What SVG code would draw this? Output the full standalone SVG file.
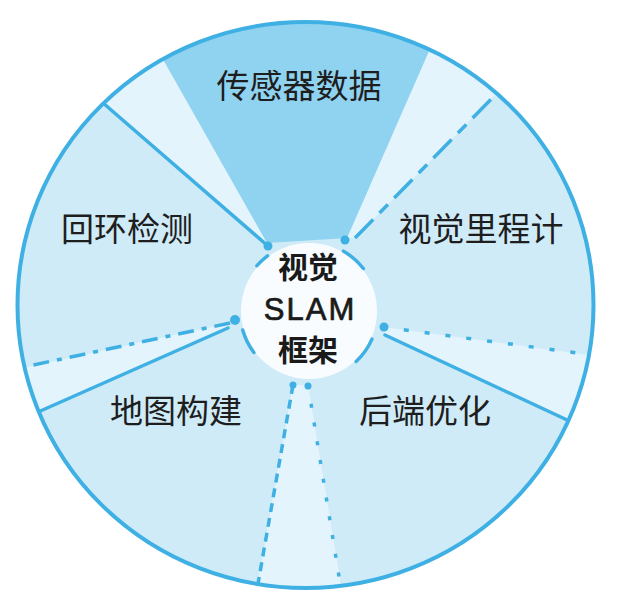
<svg xmlns="http://www.w3.org/2000/svg" width="628" height="601" viewBox="0 0 628 601">
<style>
  .lbl{font-family:"Noto Sans CJK SC","Noto Sans",sans-serif;font-size:33px;fill:#1e1e1e;text-anchor:middle}
  .ctr{font-family:"Noto Sans CJK SC",sans-serif;font-size:30px;fill:#1a1a1a;text-anchor:middle;font-weight:bold}
  .slam{font-family:"Liberation Sans","Noto Sans",sans-serif;font-size:31px;fill:#1a1a1a;stroke:#1a1a1a;stroke-width:0.7;text-anchor:middle;letter-spacing:2px}
  .sol{stroke:#3fb0e3;stroke-width:3.5;fill:none;stroke-linecap:round}
  .dsh{stroke:#3fb0e3;stroke-width:3.5;fill:none}
  .gap{fill:#e4f4fc}
  .blob{fill:#3fb0e3}
</style>
<defs>
  <clipPath id="disc"><ellipse cx="305.5" cy="305" rx="288" ry="283"/></clipPath>
</defs>
<rect width="628" height="601" fill="#ffffff"/>
<ellipse cx="305.5" cy="305" rx="288" ry="283" fill="#cfebf8"/>
<g clip-path="url(#disc)">
  <polygon class="gap" points="268,246 20,30 130,0 267,243"/>
  <polygon class="gap" points="347,238 447,10 575,13 355,238"/>
  <polygon class="gap" points="383,327 640,362 640,454 385,335"/>
  <polygon class="gap" points="293,385 253,610 345,610 308,385"/>
  <polygon class="gap" points="230,323 -10,375 -10,433 228,328"/>
</g>
<g id="sensor-data">
  <polygon points="267,243 135,10 447,10 347,238" fill="#8fd3f1" clip-path="url(#disc)"/>
  <text class="lbl" x="299" y="98">传感器数据</text>
</g>
<g id="connectors" clip-path="url(#disc)">
  <line class="sol" x1="95" y1="96" x2="268" y2="246"/>
  <line class="dsh" x1="355" y1="238" x2="505" y2="85" stroke-dasharray="26 9 12 9"/>
  <line class="dsh" x1="383" y1="327" x2="600" y2="356" stroke-dasharray="5 16"/>
  <line class="sol" x1="385" y1="335" x2="580" y2="426"/>
  <line class="dsh" x1="293" y1="385" x2="256" y2="595" stroke-dasharray="9 6"/>
  <line class="dsh" x1="308" y1="385" x2="342" y2="595" stroke-dasharray="4 15"/>
  <line class="dsh" x1="230" y1="323" x2="10" y2="370" stroke-dasharray="16 8 5 8"/>
  <line class="sol" x1="228" y1="328" x2="20" y2="420"/>
  <circle class="blob" cx="268" cy="246" r="4.5"/>
  <circle class="blob" cx="345" cy="240" r="4.5"/>
  <circle class="blob" cx="384" cy="327" r="4.5"/>
  <circle class="blob" cx="235" cy="320" r="5"/>
  <circle class="blob" cx="293" cy="385" r="3.5"/>
  <circle class="blob" cx="308" cy="386" r="3.5"/>
</g>
<ellipse cx="305.5" cy="305" rx="288" ry="283" fill="none" stroke="#3fb0e3" stroke-width="4"/>
<g id="visual-odometry"><text class="lbl" x="481" y="241">视觉里程计</text></g>
<g id="loop-closure"><text class="lbl" x="127" y="241">回环检测</text></g>
<g id="mapping"><text class="lbl" x="176" y="423">地图构建</text></g>
<g id="backend-optimization"><text class="lbl" x="425" y="423">后端优化</text></g>
<g id="center">
  <circle cx="309" cy="311" r="68" fill="#f8fcfe"/>
  <path class="sol" d="M256.9,265.7 A69,69 0 0 1 267.5,255.9"/>
  <path class="sol" d="M343.5,251.2 A69,69 0 0 1 363.4,268.5"/>
  <path class="sol" d="M372.0,339.1 A69,69 0 0 1 356.1,361.5"/>
  <path class="sol" d="M253.9,352.5 A69,69 0 0 1 242.7,330.0"/>
  <text class="ctr" x="308" y="278">视觉</text>
  <text class="slam" x="310" y="320">SLAM</text>
  <text class="ctr" x="308" y="361">框架</text>
</g>
</svg>
